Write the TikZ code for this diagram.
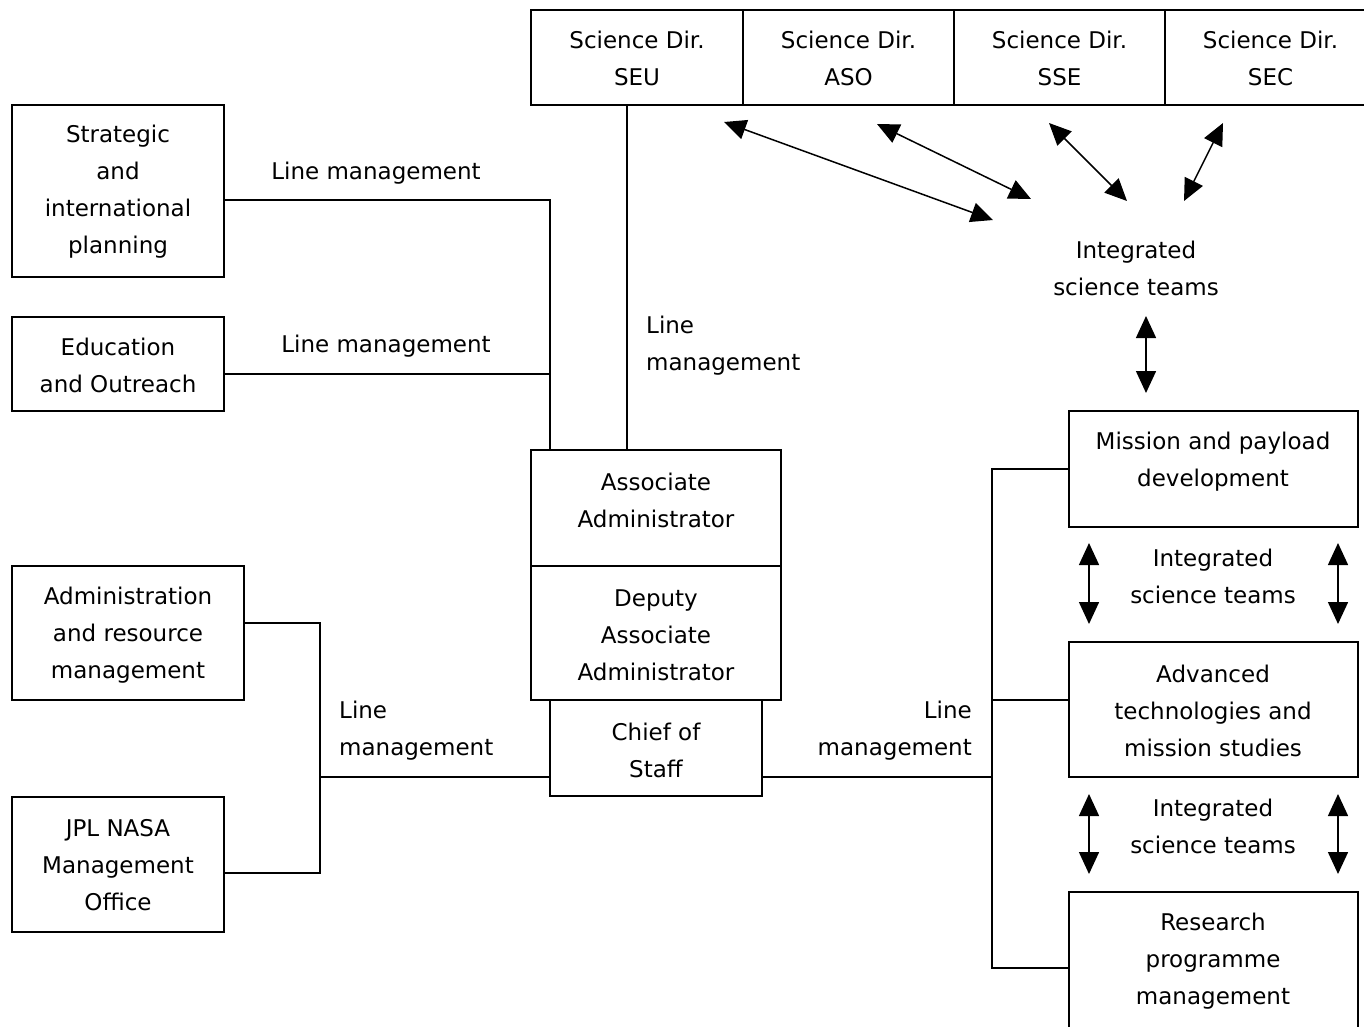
\documentclass[tikz,border=0pt]{standalone}
\usepackage{fontspec}
\setmainfont{DejaVu Sans}
\usetikzlibrary{arrows.meta}
\begin{document}
\begin{tikzpicture}[x=1pt,y=-1pt,
  box/.style={draw,line width=1.5pt,inner sep=0pt},
  txt/.style={align=center,font=\fontsize{23pt}{37pt}\selectfont,inner sep=0pt},
  lbl/.style={font=\fontsize{23pt}{37pt}\selectfont,inner sep=0pt},
  conn/.style={line width=1.3pt},
  dbl/.style={line width=1.5pt,{Triangle[length=22pt,width=20pt]}-{Triangle[length=22pt,width=20pt]}}]
\useasboundingbox (0,0) rectangle (1364,1026);
\clip (0,0) rectangle (1364,1026);
% Science directorates
\node[box,minimum width=212pt,minimum height=95pt] (seu) at (637,57.5) {};
\node[txt] (seu-t) at (637,58.5) {Science Dir.\\SEU};
\node[box,minimum width=211pt,minimum height=95pt] (aso) at (848.5,57.5) {};
\node[txt] (aso-t) at (848.5,58.5) {Science Dir.\\ASO};
\node[box,minimum width=211pt,minimum height=95pt] (sse) at (1059.5,57.5) {};
\node[txt] (sse-t) at (1059.5,58.5) {Science Dir.\\SSE};
\node[box,minimum width=211pt,minimum height=95pt] (sec) at (1270.5,57.5) {};
\node[txt] (sec-t) at (1270.5,58.5) {Science Dir.\\SEC};
% left boxes
\node[box,minimum width=212pt,minimum height=172pt] (strat) at (118,191) {};
\node[txt] (strat-t) at (118,192) {Strategic\\and\\international\\planning};
\node[box,minimum width=212pt,minimum height=94pt] (edu) at (118,364) {};
\node[txt] (edu-t) at (118,365.5) {Education\\and Outreach};
\node[box,minimum width=232pt,minimum height=134pt] (admin) at (128,633) {};
\node[txt] (admin-t) at (128,635) {Administration\\and resource\\management};
\node[box,minimum width=212pt,minimum height=135pt] (jpl) at (118,864.5) {};
\node[txt] (jpl-t) at (118,865) {JPL NASA\\Management\\Office};
% centre boxes
\node[box,minimum width=250pt,minimum height=116pt] (assoc) at (656,508) {};
\node[txt] (assoc-t) at (656,500.5) {Associate\\Administrator};
\node[box,minimum width=250pt,minimum height=134pt] (deputy) at (656,633) {};
\node[txt] (deputy-t) at (656,635) {Deputy\\Associate\\Administrator};
\node[box,minimum width=212pt,minimum height=96pt] (chief) at (656,748) {};
\node[txt] (chief-t) at (656,750) {Chief of\\Staff};
% right boxes
\node[box,minimum width=289pt,minimum height=116pt] (mission) at (1213.5,469) {};
\node[txt] (mission-t) at (1213,461.5) {Mission and payload\\development};
\node[box,minimum width=289pt,minimum height=135pt] (adv) at (1213.5,709.5) {};
\node[txt] (adv-t) at (1213,711) {Advanced\\technologies and\\mission studies};
\node[box,minimum width=289pt,minimum height=138pt] (research) at (1213.5,961) {};
\node[txt] (research-t) at (1213,961) {Research\\programme\\management};
% integrated science teams labels
\node[txt] (ist0) at (1136,268.5) {Integrated\\science teams};
\node[txt] (ist1) at (1213,576.5) {Integrated\\science teams};
\node[txt] (ist2) at (1213,826.5) {Integrated\\science teams};
% line management labels
\node[lbl] (lm1) at (376,173) {Line management};
\node[lbl] (lm2) at (386,346) {Line management};
\node[lbl,align=left,anchor=west] (lm3) at (646,345.5) {Line\\management};
\node[lbl,align=left,anchor=west] (lm4) at (339,730.5) {Line\\management};
\node[lbl,align=right,anchor=east] (lm5) at (972,730.5) {Line\\management};
% junction coordinates
\coordinate (jt) at (550,200);
\coordinate (je) at (550,374);
\coordinate (jv) at (627,0);
\coordinate (ja1) at (320,623);
\coordinate (ja2) at (320,873);
\coordinate (ja3) at (320,777);
\coordinate (jr1) at (992,469);
\coordinate (jr2) at (992,700);
\coordinate (jr3) at (992,968);
\coordinate (jr4) at (992,777);
% connectors left
\draw[conn] (strat.east |- jt) -- (jt) -- (assoc.north -| jt);
\draw[conn] (edu.east |- je) -- (je);
\draw[conn] (seu.south -| jv) -- (assoc.north -| jv);
\draw[conn] (admin.east |- ja1) -- (ja1) -- (ja2) -- (jpl.east |- ja2);
\draw[conn] (ja3) -- (chief.west |- ja3);
% connectors right
\draw[conn] (chief.east |- jr4) -- (jr4);
\draw[conn] (mission.west) -- (jr1) -- (jr3) -- (research.west |- jr3);
\draw[conn] (jr2) -- (adv.west |- jr2);
% double arrows top
\coordinate (a1a) at (724,122); \coordinate (a1b) at (993,220);
\coordinate (a2a) at (877,124); \coordinate (a2b) at (1031,199);
\coordinate (a3a) at (1049,123); \coordinate (a3b) at (1127,201);
\coordinate (a4a) at (1223,123); \coordinate (a4b) at (1184,201);
\coordinate (v0a) at (1146,316); \coordinate (v0b) at (1146,393);
\draw[dbl] (a1a) -- (a1b);
\draw[dbl] (a2a) -- (a2b);
\draw[dbl] (a3a) -- (a3b);
\draw[dbl] (a4a) -- (a4b);
\draw[dbl] (v0a) -- (v0b);
% side arrows
\coordinate (l1a) at (1089,543); \coordinate (l1b) at (1089,624);
\coordinate (r1a) at (1338,543); \coordinate (r1b) at (1338,624);
\coordinate (l2a) at (1089,794); \coordinate (l2b) at (1089,874);
\coordinate (r2a) at (1338,794); \coordinate (r2b) at (1338,874);
\draw[dbl] (l1a) -- (l1b);
\draw[dbl] (r1a) -- (r1b);
\draw[dbl] (l2a) -- (l2b);
\draw[dbl] (r2a) -- (r2b);
\end{tikzpicture}
\end{document}
